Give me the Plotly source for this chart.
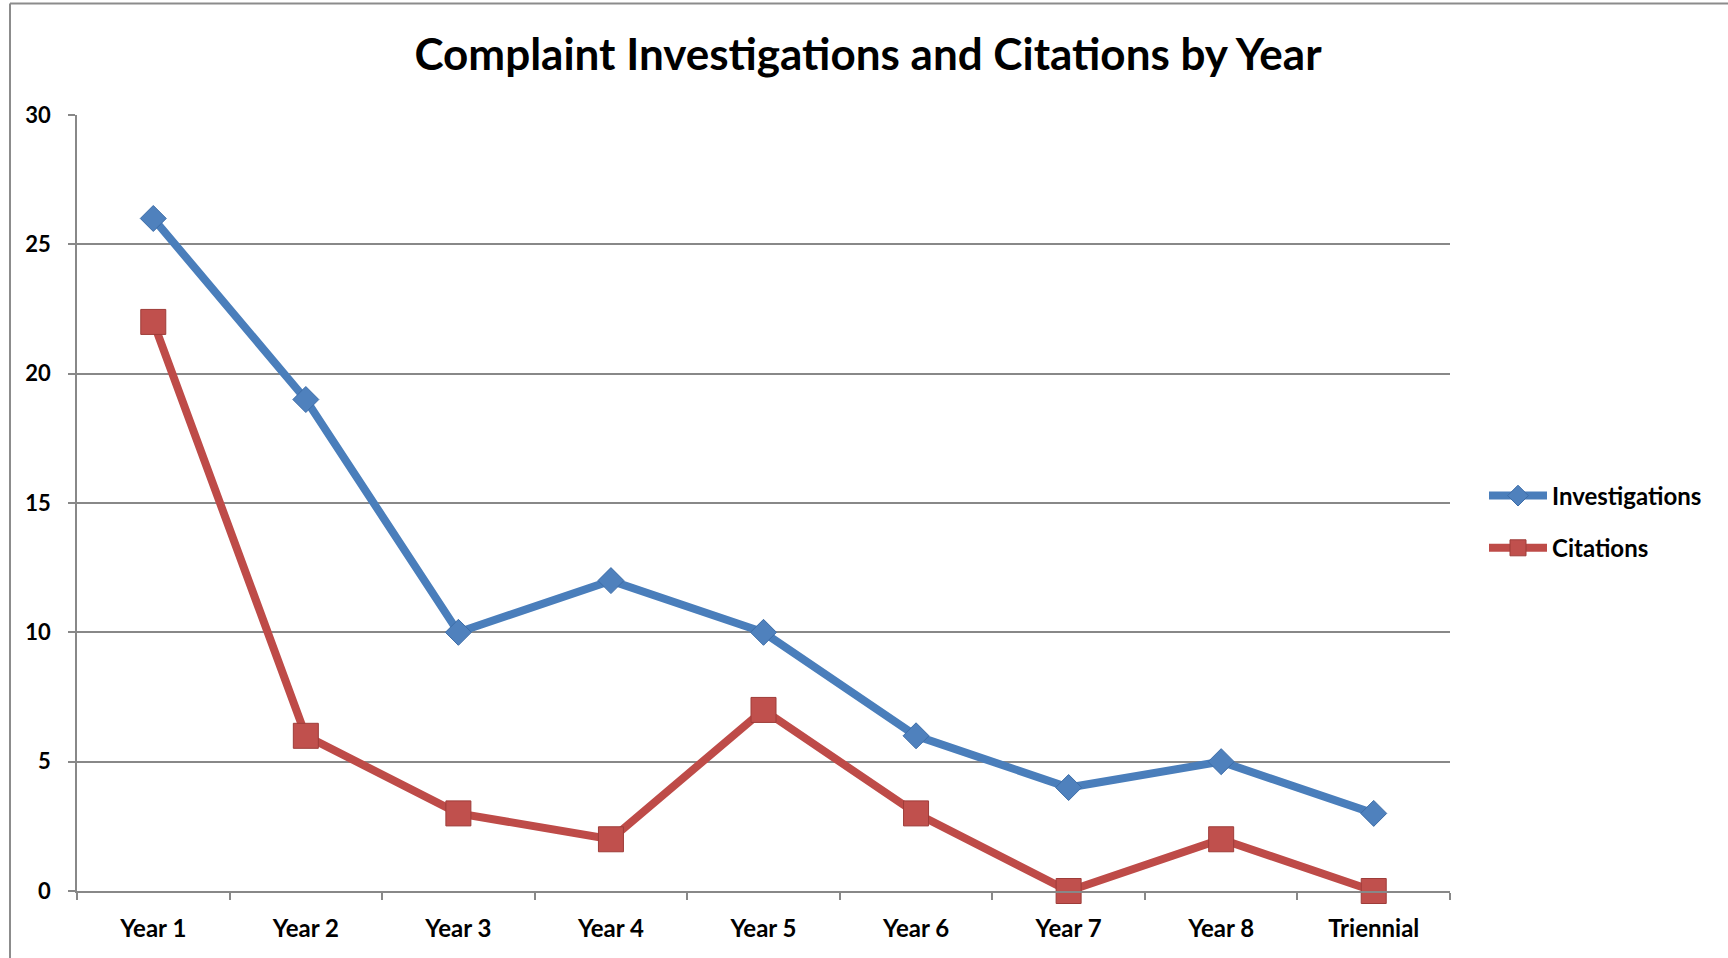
import plotly.graph_objects as go

categories = ["Year 1", "Year 2", "Year 3", "Year 4", "Year 5", "Year 6", "Year 7", "Year 8", "Triennial"]
investigations = [26, 19, 10, 12, 10, 6, 4, 5, 3]
citations = [22, 6, 3, 2, 7, 3, 0, 2, 0]
y_ticks = [0, 5, 10, 15, 20, 25, 30]

W, H = 1728, 958
L, R, T, B = 77, 278, 115, 67
pw, ph = W - L - R, H - T - B

FONT = "Lato"

fig = go.Figure()
fig.add_trace(go.Scatter(
    x=categories, y=investigations, name="Investigations", mode="lines+markers",
    line=dict(color="#4A7EBB", width=8),
    marker=dict(symbol="diamond", size=20, color="#4F81BD", line=dict(color="#3D6DA8", width=1)),
    cliponaxis=False, legendgroup="a",
))
fig.add_trace(go.Scatter(
    x=categories, y=citations, name="Citations", mode="lines+markers",
    line=dict(color="#BE4B48", width=8),
    marker=dict(symbol="square", size=25, color="#C0504D", line=dict(color="#9E3C39", width=1)),
    cliponaxis=False, legendgroup="b",
))

def px_x(p):
    return (p - L) / pw

def px_y(p):
    return (H - B - p) / ph

fig.update_layout(
    width=W, height=H,
    margin=dict(l=L, r=R, t=T, b=B),
    paper_bgcolor="white", plot_bgcolor="white",
    font=dict(family=FONT, color="black"),
    title=dict(text="<b>Complaint Investigations and Citations by Year</b>",
               xref="container", x=868 / W, xanchor="center",
               yref="container", y=1 - 55 / H, yanchor="middle",
               font=dict(size=44, family=FONT, color="black")),
    showlegend=True,
    legend=dict(x=px_x(1484), xanchor="left", y=px_y(522), yanchor="middle",
                font=dict(size=24, family=FONT, color="black", weight="bold"),
                itemwidth=58, traceorder="grouped", tracegroupgap=18,
                bgcolor="rgba(0,0,0,0)"),
    xaxis=dict(type="category", tickson="boundaries", ticks="outside", ticklen=7,
               tickcolor="#888888", tickwidth=1.5, showline=True, linecolor="#888888",
               linewidth=1.5, showgrid=False, zeroline=False,
               tickfont=dict(size=24, family=FONT, color="black", weight="bold"),
               ticklabelstandoff=15, range=[-0.5, len(categories) - 0.5]),
    yaxis=dict(range=[0, 30], tickvals=y_ticks, ticks="outside", ticklen=7,
               tickcolor="#888888", tickwidth=1.5, showline=True, linecolor="#888888",
               linewidth=1.5, showgrid=True, gridcolor="#888888", gridwidth=1.5,
               zeroline=False, tickfont=dict(size=22, family=FONT, color="black", weight="bold"),
               ticklabelstandoff=13),
    shapes=[
        dict(type="line", xref="paper", yref="paper", x0=px_x(10), x1=px_x(W + 5),
             y0=px_y(3.5), y1=px_y(3.5), line=dict(color="#8C8C8C", width=2)),
        dict(type="line", xref="paper", yref="paper", x0=px_x(10), x1=px_x(10),
             y0=px_y(3.5), y1=px_y(H + 5), line=dict(color="#8C8C8C", width=2)),
    ],
)

for tr in fig.data:
    tr.update(hoverinfo="skip")

fig.write_html("out.html", config={"displayModeBar": False},
               post_script="document.body.style.margin='0';document.body.style.overflow='hidden';")
